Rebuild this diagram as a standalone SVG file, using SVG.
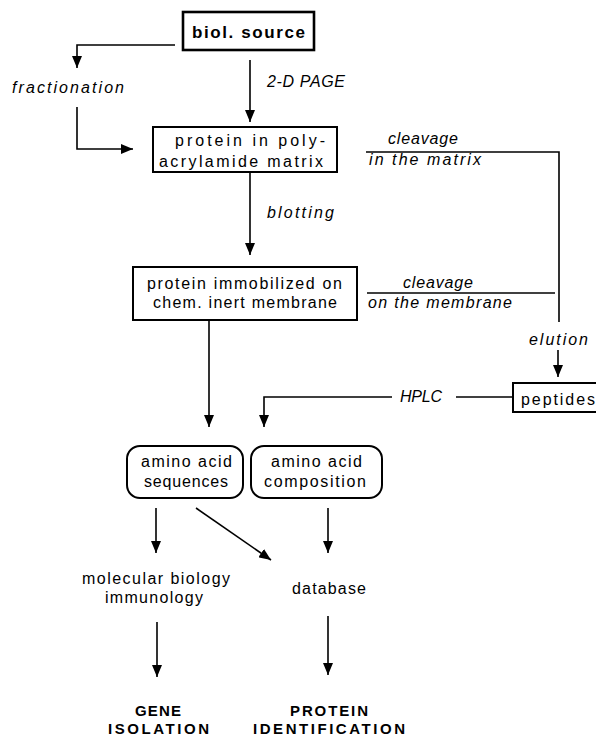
<svg xmlns="http://www.w3.org/2000/svg" width="596" height="738" viewBox="0 0 596 738">
<style>
text{font-family:"Liberation Sans",Arial,sans-serif;font-size:16px;fill:#000}
.i{font-style:italic}
.b{font-weight:bold;font-size:17px}
.t{font-weight:bold;font-size:15px}
.box{fill:#fff;stroke:#000;stroke-width:2}
.c{fill:none;stroke:#000;stroke-width:1.6}
</style>
<defs>
<marker id="ah" viewBox="0 0 12 10" refX="12" refY="5" markerWidth="12" markerHeight="10" orient="auto" markerUnits="userSpaceOnUse">
<path d="M0,0 L12,5 L0,10 z" fill="#000"/>
</marker>
</defs>
<rect width="596" height="738" fill="#fff"/>
<g id="connectors">
<path class="c" d="M175,45 H77 V68" marker-end="url(#ah)"/>
<path class="c" d="M77,107 V149 H133" marker-end="url(#ah)"/>
<path class="c" d="M250,60 V122" marker-end="url(#ah)"/>
<path class="c" d="M250,173 V255" marker-end="url(#ah)"/>
<path class="c" d="M366,152 H559 V322"/>
<path class="c" d="M367,293 H555"/>
<path class="c" d="M558,350 V377" marker-end="url(#ah)"/>
<path class="c" d="M392,397 H264 V427" marker-end="url(#ah)"/>
<path class="c" d="M456,397 H513"/>
<path class="c" d="M209,320 V427" marker-end="url(#ah)"/>
<path class="c" d="M156,508 V553" marker-end="url(#ah)"/>
<path class="c" d="M196,508 L271,560" marker-end="url(#ah)"/>
<path class="c" d="M328,508 V553" marker-end="url(#ah)"/>
<path class="c" d="M157,622 V677" marker-end="url(#ah)"/>
<path class="c" d="M328,616 V675" marker-end="url(#ah)"/>
<text class="i" x="12" y="93" textLength="112" lengthAdjust="spacing">fractionation</text>
<text class="i" x="267" y="87" textLength="78" lengthAdjust="spacing">2-D PAGE</text>
<text class="i" x="388" y="144" textLength="70" lengthAdjust="spacing">cleavage</text>
<text class="i" x="369" y="165" textLength="112" lengthAdjust="spacing">in the matrix</text>
<text class="i" x="267" y="218" textLength="67" lengthAdjust="spacing">blotting</text>
<text class="i" x="403" y="288" textLength="70" lengthAdjust="spacing">cleavage</text>
<text class="i" x="368" y="308" textLength="144" lengthAdjust="spacing">on the membrane</text>
<text class="i" x="529" y="345" textLength="59" lengthAdjust="spacing">elution</text>
<text class="i" x="400" y="402" textLength="42" lengthAdjust="spacing">HPLC</text>
</g>
<g id="biol-source">
<rect x="183" y="12" width="131" height="38" fill="#fff" stroke="#000" stroke-width="2.6"/>
<text class="b" x="192" y="38" textLength="113" lengthAdjust="spacing">biol. source</text>
</g>
<g id="polyacrylamide">
<rect class="box" x="153" y="127" width="184" height="45"/>
<text x="175" y="146" textLength="150" lengthAdjust="spacing">protein in poly-</text>
<text x="159" y="167" textLength="164" lengthAdjust="spacing">acrylamide matrix</text>
</g>
<g id="membrane">
<rect class="box" x="133" y="267" width="224" height="53"/>
<text x="147" y="289" textLength="195" lengthAdjust="spacing">protein immobilized on</text>
<text x="153" y="308" textLength="184" lengthAdjust="spacing">chem. inert membrane</text>
</g>
<g id="peptides">
<rect class="box" x="513" y="383" width="84" height="29"/>
<text x="521" y="405" textLength="74" lengthAdjust="spacing">peptides</text>
</g>
<g id="aa-sequences">
<rect class="box" x="127" y="446" width="116" height="52" rx="13"/>
<text x="141" y="467" textLength="91" lengthAdjust="spacing">amino acid</text>
<text x="144" y="487" textLength="84" lengthAdjust="spacing">sequences</text>
</g>
<g id="aa-composition">
<rect class="box" x="251" y="446" width="131" height="52" rx="13"/>
<text x="271" y="467" textLength="91" lengthAdjust="spacing">amino acid</text>
<text x="264" y="487" textLength="102" lengthAdjust="spacing">composition</text>
</g>
<g id="molbio">
<text x="82" y="584" textLength="148" lengthAdjust="spacing">molecular biology</text>
<text x="105" y="603" textLength="98" lengthAdjust="spacing">immunology</text>
</g>
<g id="database">
<text x="292" y="594" textLength="74" lengthAdjust="spacing">database</text>
</g>
<g id="gene-isolation">
<text class="t" x="135" y="716" textLength="46" lengthAdjust="spacing">GENE</text>
<text class="t" x="108" y="734" textLength="101" lengthAdjust="spacing">ISOLATION</text>
</g>
<g id="protein-identification">
<text class="t" x="290" y="716" textLength="78" lengthAdjust="spacing">PROTEIN</text>
<text class="t" x="253" y="734" textLength="152" lengthAdjust="spacing">IDENTIFICATION</text>
</g>
</svg>
